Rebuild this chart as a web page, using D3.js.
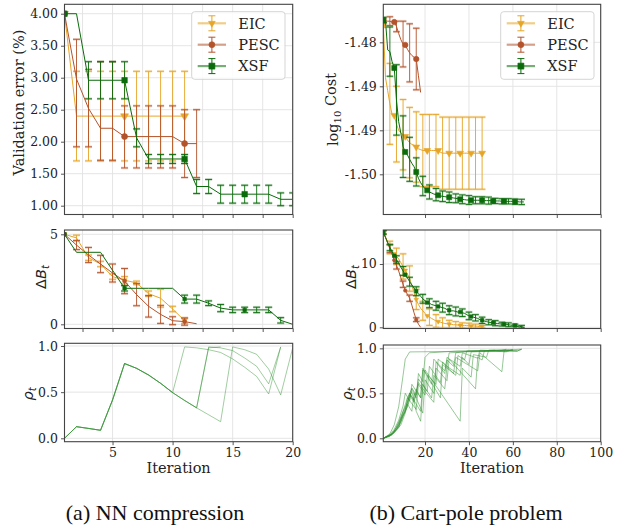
<!DOCTYPE html>
<html><head><meta charset="utf-8">
<script src="https://cdn.jsdelivr.net/npm/d3@7"></script>
<style>body{margin:0;background:#fff}svg{display:block}</style>
</head><body>
<svg id="c" width="619" height="525"></svg>
<script>
// ================= DATA =================
// (a) NN compression — validation error (%) per iteration (iteration = index + 1)
const nnErrEIC   = [4.00, 2.40, 2.40, 2.40, 2.40, 2.40, 2.40, 2.40, 2.40, 2.40, 2.40];
const nnErrEICsd = [0, 0.70, 0.70, 0.70, 0.70, 0.70, 0.70, 0.70, 0.70, 0.70, 0.70];
const nnErrPESC   = [4.00, 2.98, 2.52, 2.21, 2.21, 2.08, 2.08, 2.08, 2.08, 2.08, 1.97, 1.97];
const nnErrPESClo = [4.00, 1.92, 1.92, 1.71, 1.71, 1.59, 1.59, 1.59, 1.59, 1.59, 1.44, 1.44];
const nnErrPESChi = [4.00, 3.60, 3.13, 3.25, 3.25, 2.56, 2.56, 2.56, 2.56, 2.56, 2.50, 2.50];
const nnErrXSF   = [4.00, 4.00, 2.96, 2.96, 2.96, 2.96, 2.06, 1.73, 1.73, 1.73, 1.73, 1.30, 1.30, 1.18, 1.18, 1.18, 1.18, 1.18, 1.10, 1.10];
const nnErrXSFsd = [0, 0, 0.29, 0.29, 0.29, 0.29, 0.14, 0.07, 0.07, 0.07, 0.07, 0.11, 0.11, 0.14, 0.14, 0.14, 0.14, 0.14, 0.10, 0.10];

// (a) ΔB_t
const nnDbEIC    = [5.0, 4.8, 3.7, 3.35, 2.65, 2.45, 2.3, 1.7, 1.45, 0.85, 0.2];
const nnDbEICsd  = [0, 0.15, 0.15, 0.15, 0.15, 0.2, 0.1, 0.15, 0.5, 0.15, 0.15];
const nnDbPESC   = [5.0, 4.4, 3.85, 3.35, 2.85, 2.4, 1.65, 1.0, 0.55, 0.2, 0.15, 0.03];
const nnDbPESCsd = [0, 0.25, 0.42, 0.48, 0.5, 0.7, 0.62, 0.6, 0.5, 0.22, 0.2, 0];
const nnDbXSF    = [5.0, 4.0, 4.0, 4.0, 3.0, 2.0, 2.0, 2.0, 2.0, 2.0, 1.4, 1.4, 1.17, 0.9, 0.8, 0.8, 0.8, 0.8, 0.22, 0.0];
const nnDbXSFsd  = [0, 0, 0, 0, 0, 0.15, 0, 0, 0, 0, 0.22, 0.22, 0.13, 0.2, 0.15, 0.15, 0.15, 0.15, 0.15, 0];

// (a) ρ_t runs
const nnRhoRuns = [
  [0.0, 0.126, 0.107, 0.087, 0.415, 0.81, 0.758, 0.686, 0.596, 0.495, 0.99, 0.98, 0.96, 0.93, 0.86, 0.77, 0.67, 0.48, 0.99],
  [0.0, 0.126, 0.107, 0.087, 0.415, 0.81, 0.758, 0.686, 0.596, 0.495, 0.41, 0.33, 0.99, 0.98, 0.95, 0.87, 0.78, 0.59, 0.99],
  [0.0, 0.126, 0.107, 0.087, 0.415, 0.81, 0.758, 0.686, 0.596, 0.495, 0.41, 0.33, 0.255, 0.18, 0.99, 0.96, 0.91, 0.75, 0.47, 0.98],
  [0.0, 0.126, 0.107, 0.087, 0.415, 0.81, 0.758, 0.686, 0.596, 0.495, 0.41, 0.33, 0.98, 0.99]
];

// (b) Cart-pole — log10 cost per iteration; error bars every 3rd iteration (1,4,7,...)
const cpCostEIC = [-1.4780, -1.4840, -1.4855, -1.4870, -1.4882, -1.4883, -1.4893, -1.4900, -1.4903, -1.4905,
  -1.4907, -1.4911, -1.4914, -1.4916, -1.4917, -1.4919, -1.4921, -1.4922, -1.4923, -1.4923,
  -1.4923, -1.4923, -1.4923, -1.4923, -1.4923, -1.4923, -1.4925, -1.4926, -1.4926, -1.4926,
  -1.4926, -1.4926, -1.4926, -1.4926, -1.4926, -1.4926, -1.4926, -1.4926, -1.4926, -1.4926,
  -1.4926, -1.4926, -1.4926, -1.4926, -1.4926, -1.4926];
const cpCostEICsd = [0.0003, 0.0046, 0.0043, 0.0040, 0.0040, 0.0040, 0.0041, 0.0041, 0.0041, 0.0041, 0.0041, 0.0041, 0.0041, 0.0041, 0.0041, 0.0041];
const cpCostPESC = [-1.47754, -1.47756, -1.4776, -1.4776, -1.4777, -1.4777, -1.4782, -1.4790, -1.4797, -1.4802,
  -1.4803, -1.4808, -1.4812, -1.4815, -1.4817, -1.4819, -1.4838, -1.4857];
const cpCostPESCsd = [0.0002, 0.0005, 0.0006, 0.0026, 0.0033, 0.0035];
const cpCostXSF = [-1.47746, -1.47754, -1.48087, -1.48106, -1.48220, -1.48292, -1.48655, -1.48902, -1.49034, -1.49186,
  -1.49246, -1.49280, -1.49330, -1.49375, -1.49413, -1.49473, -1.49545, -1.49595, -1.49633, -1.49663,
  -1.49682, -1.49701, -1.49712, -1.49724, -1.49731, -1.49739, -1.49746, -1.49750, -1.49754, -1.49758,
  -1.49761, -1.49765, -1.49769, -1.49773, -1.49777, -1.49784, -1.49784, -1.49788, -1.49792, -1.49792,
  -1.49795, -1.49795, -1.49795, -1.49795, -1.49795, -1.49795, -1.49799, -1.49799, -1.49799, -1.49799,
  -1.49803, -1.49803, -1.49803, -1.49803, -1.49807, -1.49807, -1.49807, -1.49807, -1.49807, -1.49807,
  -1.49811, -1.49811, -1.49814, -1.49814, -1.49814];
const cpCostXSFsd = [0.0003, 0.0028, 0.0040, 0.0035, 0.0025, 0.0016, 0.0011, 0.0008, 0.0007, 0.0006, 0.0006,
  0.0005, 0.0005, 0.0005, 0.0004, 0.0004, 0.0004, 0.0003, 0.0003, 0.0003, 0.0003, 0.0003];

// (b) ΔB_t
const cpDbEIC = [15.0, 14.3, 13.4, 12.6, 12.0, 11.6, 11.2, 10.8, 10.2, 9.6, 9.0, 8.4, 7.7, 6.6, 5.5, 4.4, 3.6, 3.0, 2.6, 2.2,
  1.8, 1.6, 1.4, 1.2, 1.0, 0.9, 0.8, 0.7, 0.6, 0.55, 0.5, 0.45, 0.4, 0.4, 0.35, 0.3, 0.3, 0.3, 0.25, 0.25,
  0.2, 0.2, 0.2, 0.15, 0.1, 0.1];
const cpDbEICsd = [0.2, 1.0, 1.3, 2.0, 2.0, 1.6, 1.5, 1.3, 1.0, 0.8, 0.6, 0.5, 0.4, 0.4, 0.3, 0.2];
const cpDbPESC = [15.0, 14.2, 13.3, 12.4, 11.5, 10.6, 9.8, 8.9, 7.8, 6.8, 5.8, 5.2, 4.6, 3.5, 2.3, 1.2, 0.5, 0.0];
const cpDbPESCsd = [0.3, 0.6, 0.6, 0.5, 0.5, 0.3];
const cpDbXSF = [15.0, 14.2, 13.4, 12.6, 11.9, 11.3, 10.7, 10.1, 9.5, 8.9, 8.3, 7.8, 7.2, 6.7, 6.2, 5.7, 5.3, 4.9, 4.5, 4.2,
  3.9, 3.8, 3.6, 3.5, 3.4, 3.3, 3.2, 3.1, 3.0, 2.8, 2.7, 2.6, 2.6, 2.5, 2.4, 2.4, 2.3, 2.2, 2.0, 1.8,
  1.7, 1.6, 1.5, 1.4, 1.2, 1.1, 1.0, 0.9, 0.8, 0.75, 0.7, 0.65, 0.6, 0.55, 0.5, 0.5, 0.45, 0.4, 0.35, 0.3,
  0.3, 0.2, 0.15, 0.1, 0.0];
const cpDbXSFsd = [0.3, 0.5, 0.6, 0.7, 0.7, 0.7, 0.7, 0.7, 0.7, 0.7, 0.7, 0.7, 0.6, 0.6, 0.5, 0.5, 0.4, 0.4, 0.3, 0.3, 0.2, 0.2];

// (b) ρ_t runs as [iteration, value] vertices
const cpRhoRuns = [
  [[1,0],[4,0.05],[6,0.15],[8,0.35],[10,0.7],[11,0.88],[13,0.96],[30,0.965],[45,0.97],[62,0.97],[64,0.99]],
  [[1,0],[4,0.03],[6,0.08],[8,0.18],[10,0.3],[12,0.45],[14,0.55],[16,0.45],[17,0.72],[19,0.63],[20,0.9],[22,0.95],[35,0.97],[50,0.97],[62,0.97],[64,0.99]],
  [[1,0],[4,0.02],[7,0.1],[9,0.2],[11,0.32],[13,0.5],[15,0.42],[16,0.55],[18,0.45],[19,0.78],[23,0.6],[24,0.88],[29,0.75],[30,0.87],[33,0.8],[34,0.95],[40,0.97],[55,0.98],[60,0.98]],
  [[1,0],[5,0.05],[8,0.15],[10,0.3],[12,0.4],[14,0.52],[16,0.3],[18,0.19],[19,0.55],[24,0.4],[25,0.85],[29,0.72],[30,0.9],[36,0.8],[37,0.95],[44,0.89],[45,0.98],[58,0.97],[60,0.99]],
  [[1,0],[5,0.04],[8,0.12],[10,0.25],[12,0.35],[13,0.48],[15,0.4],[17,0.62],[19,0.55],[20,0.76],[36,0.19],[37,0.78],[41,0.68],[42,0.93],[48,0.9],[49,0.98],[57,0.98],[62,0.97]],
  [[1,0],[4,0.03],[7,0.1],[9,0.18],[11,0.3],[13,0.42],[14,0.56],[16,0.48],[17,0.66],[21,0.52],[22,0.8],[27,0.62],[28,0.85],[33,0.72],[34,0.9],[44,0.75],[45,0.95],[55,0.74],[56,0.97],[60,0.98]],
  [[1,0],[5,0.04],[8,0.13],[10,0.28],[12,0.38],[13,0.5],[18,0.3],[19,0.6],[23,0.45],[24,0.7],[29,0.55],[30,0.8],[36,0.7],[37,0.9],[40,0.82],[41,0.96],[52,0.97],[57,0.96],[58,0.98]],
  [[1,0],[4,0.04],[6,0.1],[8,0.2],[10,0.36],[11,0.5],[13,0.42],[14,0.6],[18,0.45],[19,0.76],[25,0.6],[26,0.88],[30,0.8],[31,0.95],[45,0.97],[52,0.98]],
  [[1,0],[5,0.05],[7,0.12],[9,0.22],[11,0.3],[12,0.45],[16,0.32],[17,0.6],[20,0.48],[21,0.7],[27,0.45],[28,0.82],[34,0.7],[35,0.92],[38,0.87],[39,0.97],[54,0.97],[57,0.99]],
  [[1,0],[6,0.06],[9,0.15],[11,0.28],[12,0.38],[14,0.3],[15,0.5],[19,0.28],[20,0.65],[24,0.5],[25,0.78],[30,0.64],[31,0.88],[43,0.55],[44,0.9],[46,0.87],[47,0.97],[64,0.99]]
];

// tick definitions
const nnXTicks = [2.5, 5, 7.5, 10, 12.5, 15, 17.5, 20];
const nnXTicksBottom = [5, 10, 15, 20];
const cpXTicks = [20, 40, 60, 80, 100];
const nnErrYTicks = [1.00, 1.50, 2.00, 2.50, 3.00, 3.50, 4.00];
const cpCostYTicks = [-1.480, -1.485, -1.490, -1.495];
const cpCostYLabels = ["-1.48", "-1.49", "-1.49", "-1.50"];
const nnDbYTicks = [0, 5];
const cpDbYTicks = [0, 10];
const rhoYTicks = [0.0, 0.5, 1.0];
const seriesNames = ["EIC", "PESC", "XSF"];
const captions = ["(a) NN compression", "(b) Cart-pole problem"];

// ================= STYLE =================
const FONT = "'DejaVu Serif', serif";
const MATH = "'DejaVu Sans', sans-serif";
const COL = {EIC: "#e6a526", PESC: "#b3532b", XSF: "#0b6b0b"};
const RHO_COL = "#2d8f2d";
const svg = d3.select("#c");
const defs = svg.append("defs");

function panel(p) {
  const x = d3.scaleLinear().domain(p.xDom).range([p.x0, p.x1]);
  const y = d3.scaleLinear().domain(p.yDom).range([p.y1, p.y0]);
  const g = svg.append("g");
  g.selectAll(".gx").data(p.xTicks).join("line")
    .attr("x1", d => x(d)).attr("x2", d => x(d)).attr("y1", p.y0).attr("y2", p.y1)
    .attr("stroke", "#e2e2e2").attr("stroke-width", 0.9);
  g.selectAll(".gy").data(p.yTicks).join("line")
    .attr("y1", d => y(d)).attr("y2", d => y(d)).attr("x1", p.x0).attr("x2", p.x1)
    .attr("stroke", "#e2e2e2").attr("stroke-width", 0.9);
  defs.append("clipPath").attr("id", "cl" + p.id).append("rect")
    .attr("x", p.x0).attr("y", p.y0).attr("width", p.x1 - p.x0).attr("height", p.y1 - p.y0);
  const plot = g.append("g").attr("clip-path", `url(#cl${p.id})`);
  const fmtX = p.xLabels ? d3.format("d") : () => "";
  const ax = g.append("g").attr("transform", `translate(0,${p.y1})`)
    .call(d3.axisBottom(x).tickValues(p.xTicks).tickSize(3.5).tickPadding(3).tickFormat(fmtX));
  const ay = g.append("g").attr("transform", `translate(${p.x0},0)`)
    .call(d3.axisLeft(y).tickValues(p.yTicks).tickSize(3.5).tickPadding(3).tickFormat(p.yFmt));
  [ax, ay].forEach(a => {
    a.select(".domain").remove();
    a.selectAll(".tick line").attr("stroke", "#444").attr("stroke-width", 0.9);
    a.selectAll(".tick text").attr("fill", "#222").style("font-family", FONT).style("font-size", "12.5px");
  });
  const frame = () => g.append("rect").attr("x", p.x0).attr("y", p.y0)
    .attr("width", p.x1 - p.x0).attr("height", p.y1 - p.y0)
    .attr("fill", "none").attr("stroke", "#444").attr("stroke-width", 1.1);
  return {x, y, g, plot, frame, p};
}

function marker(sel, type, s) {
  const sym = type === "EIC" ? d3.symbolTriangle : type === "PESC" ? d3.symbolCircle : d3.symbolSquare;
  const area = type === "EIC" ? s * s * 0.55 : type === "PESC" ? Math.PI * (s / 2) * (s / 2) : s * s;
  sel.attr("d", d3.symbol().type(sym).size(area)());
  return sel;
}

function drawSeries(P, vals, name, o) {
  const col = COL[name];
  const g = P.plot.append("g");
  const bars = [];
  vals.forEach((v, i) => {
    let lo = null, hi = null;
    if (o.lo) { lo = o.lo[i]; hi = o.hi[i]; }
    else if (o.sd && i % o.every === 0) {
      const s = o.sd[i / o.every];
      if (s != null && s > 0) { lo = v - s; hi = v + s; }
    }
    if (lo != null && hi > lo) bars.push({x: i + 1, lo, hi});
  });
  const cw = o.cap;
  // faint halo on caps (overlapping runs look doubled in the reference)
  ["lo", "hi"].forEach(k => {
    g.selectAll(".h" + k).data(bars).join("line")
      .attr("x1", d => P.x(d.x) - cw).attr("x2", d => P.x(d.x) + cw)
      .attr("y1", d => P.y(d[k])).attr("y2", d => P.y(d[k]))
      .attr("stroke", col).attr("stroke-width", 2.6).attr("opacity", 0.25);
  });
  g.selectAll(".eb").data(bars).join("line")
    .attr("x1", d => P.x(d.x)).attr("x2", d => P.x(d.x)).attr("y1", d => P.y(d.lo)).attr("y2", d => P.y(d.hi))
    .attr("stroke", col).attr("stroke-width", 1).attr("opacity", 0.9);
  ["lo", "hi"].forEach(k => {
    g.selectAll(".c" + k).data(bars).join("line")
      .attr("x1", d => P.x(d.x) - cw).attr("x2", d => P.x(d.x) + cw)
      .attr("y1", d => P.y(d[k])).attr("y2", d => P.y(d[k]))
      .attr("stroke", col).attr("stroke-width", 1).attr("opacity", 0.9);
  });
  const line = d3.line().x((d, i) => P.x(i + 1)).y(d => P.y(d));
  g.append("path").attr("d", line(vals)).attr("fill", "none").attr("stroke", col).attr("stroke-width", 1);
  const mk = vals.map((v, i) => ({x: i + 1, v})).filter((d, i) => i % 5 === 0);
  g.selectAll(".mk").data(mk).join("path")
    .each(function () { marker(d3.select(this), name, o.ms); })
    .attr("transform", d => `translate(${P.x(d.x)},${P.y(d.v)})` + (name === "EIC" ? " rotate(180)" : ""))
    .attr("fill", col).attr("stroke", col).attr("stroke-width", 0.6);
}

function legend(x0, y0) {
  const g = svg.append("g");
  g.append("rect").attr("x", x0).attr("y", y0).attr("width", 93.3).attr("height", 67.6)
    .attr("rx", 3).attr("fill", "#fff").attr("fill-opacity", 0.85).attr("stroke", "#d0d0d0").attr("stroke-width", 0.9);
  seriesNames.forEach((n, i) => {
    const cy = y0 + 11.6 + i * 21.4;
    const col = COL[n];
    g.append("line").attr("x1", x0 + 6).attr("x2", x0 + 34.3).attr("y1", cy).attr("y2", cy)
      .attr("stroke", col).attr("stroke-width", 2.2).attr("opacity", 0.55);
    const mx = x0 + 20.2;
    g.append("line").attr("x1", mx).attr("x2", mx).attr("y1", cy - 7.5).attr("y2", cy + 7.5).attr("stroke", col).attr("stroke-width", 1);
    [-7.5, 7.5].forEach(d => g.append("line").attr("x1", mx - 3.5).attr("x2", mx + 3.5).attr("y1", cy + d).attr("y2", cy + d).attr("stroke", col).attr("stroke-width", 1));
    marker(g.append("path"), n, 6).attr("transform", `translate(${mx},${cy})` + (n === "EIC" ? " rotate(180)" : ""))
      .attr("fill", col).attr("stroke", col).attr("stroke-width", 0.6);
    g.append("text").attr("x", x0 + 46.6).attr("y", cy).attr("dy", "0.36em").text(n)
      .style("font-family", FONT).style("font-size", "14.5px").attr("fill", "#222");
  });
}

function ylabel(cx, cy, parts) {
  const t = svg.append("text").attr("transform", `translate(${cx},${cy}) rotate(-90)`)
    .attr("text-anchor", "middle").attr("dy", "0.36em").attr("fill", "#222").style("font-size", "14.5px");
  parts.forEach(pt => {
    const ts = t.append("tspan").text(pt.t).style("font-family", pt.math ? MATH : FONT);
    if (pt.it) ts.style("font-style", "italic");
    if (pt.sub) ts.attr("dy", "0.3em").style("font-size", "10px");
    if (pt.after) ts.attr("dy", "-0.3em");
  });
}

// ================= PANELS =================
const LX = [64.5, 292.7], RX = [383.3, 600.7];

const A1 = panel({id: "a1", x0: LX[0], x1: LX[1], y0: 4.3, y1: 214.5, xDom: [1, 20], yDom: [0.8625, 4.147],
  xTicks: nnXTicks, xLabels: false, yTicks: nnErrYTicks, yFmt: d3.format(".2f")});
drawSeries(A1, nnErrEIC, "EIC", {sd: nnErrEICsd, every: 1, cap: 3.5, ms: 7});
drawSeries(A1, nnErrPESC, "PESC", {lo: nnErrPESClo, hi: nnErrPESChi, cap: 3.5, ms: 6});
drawSeries(A1, nnErrXSF, "XSF", {sd: nnErrXSFsd, every: 1, cap: 3.5, ms: 5.5});
A1.frame();
legend(191.7, 11.7);

const A2 = panel({id: "a2", x0: LX[0], x1: LX[1], y0: 230, y1: 328.5, xDom: [1, 20], yDom: [-0.233, 5.239],
  xTicks: nnXTicks, xLabels: false, yTicks: nnDbYTicks, yFmt: d3.format("d")});
drawSeries(A2, nnDbEIC, "EIC", {sd: nnDbEICsd, every: 1, cap: 3.5, ms: 4.5});
drawSeries(A2, nnDbPESC, "PESC", {sd: nnDbPESCsd, every: 1, cap: 3.5, ms: 4});
drawSeries(A2, nnDbXSF, "XSF", {sd: nnDbXSFsd, every: 1, cap: 3.5, ms: 3.5});
A2.frame();

const A3 = panel({id: "a3", x0: LX[0], x1: LX[1], y0: 343.3, y1: 441.7, xDom: [1, 20], yDom: [-0.0368, 1.0293],
  xTicks: nnXTicksBottom, xLabels: true, yTicks: rhoYTicks, yFmt: d3.format(".1f")});
nnRhoRuns.forEach(run => {
  A3.plot.append("path").attr("d", d3.line().x((d, i) => A3.x(i + 1)).y(d => A3.y(d))(run))
    .attr("fill", "none").attr("stroke", RHO_COL).attr("stroke-width", 0.75).attr("opacity", 0.6);
});
A3.frame();

const B1 = panel({id: "b1", x0: RX[0], x1: RX[1], y0: 4.3, y1: 214.5, xDom: [1, 100], yDom: [-1.499568, -1.475682],
  xTicks: cpXTicks, xLabels: false, yTicks: cpCostYTicks, yFmt: (d, i) => cpCostYLabels[i]});
drawSeries(B1, cpCostEIC, "EIC", {sd: cpCostEICsd, every: 3, cap: 3.3, ms: 6});
drawSeries(B1, cpCostPESC, "PESC", {sd: cpCostPESCsd, every: 3, cap: 3.3, ms: 5.5});
drawSeries(B1, cpCostXSF, "XSF", {sd: cpCostXSFsd, every: 3, cap: 3.3, ms: 5});
B1.frame();
legend(500.7, 11.7);

const B2 = panel({id: "b2", x0: RX[0], x1: RX[1], y0: 230, y1: 328.5, xDom: [1, 100], yDom: [-0.19, 15.37],
  xTicks: cpXTicks, xLabels: false, yTicks: cpDbYTicks, yFmt: d3.format("d")});
drawSeries(B2, cpDbEIC, "EIC", {sd: cpDbEICsd, every: 3, cap: 3.3, ms: 4});
drawSeries(B2, cpDbPESC, "PESC", {sd: cpDbPESCsd, every: 3, cap: 3.3, ms: 3.5});
drawSeries(B2, cpDbXSF, "XSF", {sd: cpDbXSFsd, every: 3, cap: 3.3, ms: 3.5});
B2.frame();

const B3 = panel({id: "b3", x0: RX[0], x1: RX[1], y0: 345, y1: 441.7, xDom: [1, 100], yDom: [-0.0378, 1.037],
  xTicks: cpXTicks, xLabels: true, yTicks: rhoYTicks, yFmt: d3.format(".1f")});
cpRhoRuns.forEach(run => {
  B3.plot.append("path").attr("d", d3.line().x(d => B3.x(d[0])).y(d => B3.y(d[1]))(run))
    .attr("fill", "none").attr("stroke", RHO_COL).attr("stroke-width", 0.7).attr("opacity", 0.7);
});
B3.frame();

// ================= LABELS =================
ylabel(19, 102.5, [{t: "Validation error (%)"}]);
ylabel(41, 277, [{t: "Δ", math: true}, {t: "B", math: true, it: true}, {t: "t", math: true, it: true, sub: true}]);
ylabel(28, 394, [{t: "ρ", math: true, it: true}, {t: "t", math: true, it: true, sub: true}]);
ylabel(332.5, 109.5, [{t: "log"}, {t: "10", sub: true}, {t: " Cost", after: true}]);
ylabel(351, 277, [{t: "Δ", math: true}, {t: "B", math: true, it: true}, {t: "t", math: true, it: true, sub: true}]);
ylabel(347, 394, [{t: "ρ", math: true, it: true}, {t: "t", math: true, it: true, sub: true}]);

[(LX[0] + LX[1]) / 2, (RX[0] + RX[1]) / 2].forEach(cx => {
  svg.append("text").attr("x", cx).attr("y", 473).attr("text-anchor", "middle").text("Iteration")
    .style("font-family", FONT).style("font-size", "14.5px").attr("fill", "#222");
});

svg.selectAll(".cap").data(captions).join("text")
  .attr("x", (d, i) => i === 0 ? 155 : 466).attr("y", 520).attr("text-anchor", "middle")
  .text(d => d).style("font-family", "'Liberation Serif', 'Times New Roman', serif").style("font-size", "22px").attr("fill", "#111");
</script>
</body></html>
